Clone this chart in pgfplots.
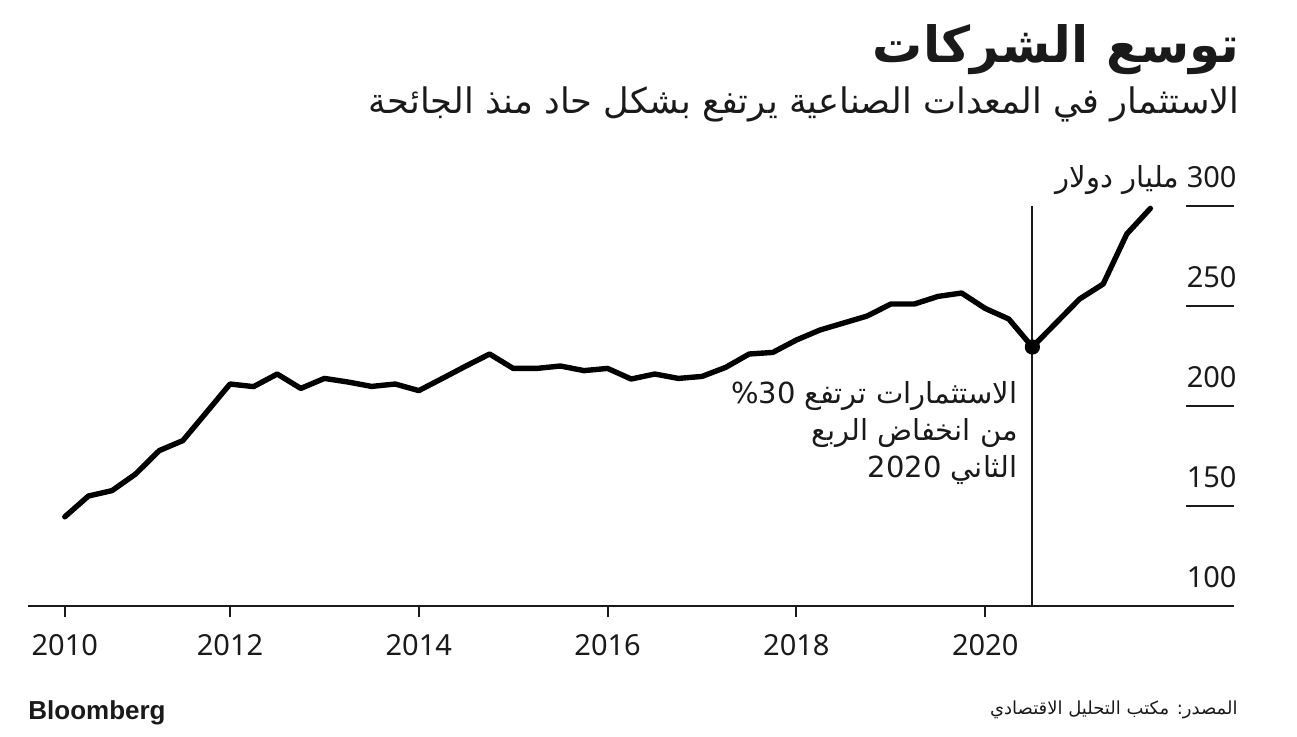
\documentclass[border=0pt]{standalone}
\usepackage{fontspec}
\setmainfont{Noto Sans}
\newfontfamily\arabicfont[Script=Arabic]{DejaVu Sans}
\newfontfamily\logofont{Liberation Sans}
\TeXXeTstate=1
\usepackage{pgfplots}
\pgfplotsset{compat=1.18}
\definecolor{ink}{HTML}{1A1A1A}

\begin{document}
\begin{tikzpicture}
\useasboundingbox (0,0) rectangle (648.5pt,-368pt);

% title and subtitle
\node[anchor=base east, inner sep=0pt, text=ink] at (620pt,-31pt)
  {\arabicfont\bfseries\fontsize{25}{30}\selectfont\beginR توسع الشركات\endR};
\node[anchor=base east, inner sep=0pt, text=ink] at (620pt,-56.5pt)
  {\arabicfont\fontsize{17.6}{20}\selectfont\beginR الاستثمار في المعدات الصناعية يرتفع بشكل حاد منذ الجائحة\endR};

\begin{axis}[
  at={(14pt,-303pt)}, anchor=south west,
  scale only axis, width=603pt, height=200pt,
  xmin=2009.86, xmax=2022.636, ymin=100, ymax=300,
  axis x line=bottom, axis y line=right,
  axis line style={-, draw=ink, line width=1pt},
  y axis line style={draw=none},
  xtick={2010.25,2012,2014,2016,2018,2020},
  xticklabels={2010,2012,2014,2016,2018,2020},
  ytick={100,150,200,250,300},
  yticklabels={100,150,200,250,{{\arabicfont\beginR مليار دولار\endR}\ 300}},
  tick align=outside, major tick length=5.5pt,
  tick style={draw=ink, line width=1pt},
  ytick style={draw=none},
  ticklabel style={font=\fontsize{14.5}{17}\selectfont, text=ink},
  xticklabel style={anchor=base, yshift=-19pt},
  yticklabel style={anchor=base east, inner sep=0pt, yshift=9.5pt, xshift=-4pt},
  clip=false,
]
\addplot[black, line width=2.7pt, line join=round, line cap=round] coordinates {
 (2010.25,144.6) (2010.50,155.0) (2010.75,157.7) (2011.00,166.0)
 (2011.25,177.7) (2011.50,182.7) (2011.75,196.8) (2012.00,211.0)
 (2012.25,209.7) (2012.50,216.0) (2012.75,208.8) (2013.00,213.8)
 (2013.25,212.0) (2013.50,209.8) (2013.75,211.0) (2014.00,207.7)
 (2014.25,213.8) (2014.50,220.0) (2014.75,226.0) (2015.00,218.8)
 (2015.25,218.8) (2015.50,220.0) (2015.75,217.7) (2016.00,218.8)
 (2016.25,213.5) (2016.50,216.0) (2016.75,213.8) (2017.00,214.8)
 (2017.25,219.3) (2017.50,226.0) (2017.75,226.8) (2018.00,233.0)
 (2018.25,238.0) (2018.50,241.5) (2018.75,245.0) (2019.00,251.0)
 (2019.25,251.0) (2019.50,254.8) (2019.75,256.5) (2020.00,248.8)
 (2020.25,243.5) (2020.50,229.5) (2020.75,241.5) (2021.00,253.5)
 (2021.25,261.0) (2021.50,286.0) (2021.75,298.8)
};
\addplot[only marks, mark=*, mark size=3.6pt, black] coordinates {(2020.5,229.5)};
\draw[ink, line width=1pt] (axis cs:2020.5,100) -- (axis cs:2020.5,300);
\pgfplotsinvokeforeach{150,200,250,300}{
  \draw[ink, line width=1pt] (axis cs:2022.128,#1) -- (axis cs:2022.636,#1);
}
\end{axis}

% annotation
\begin{scope}[every node/.style={anchor=base east, inner sep=0pt, text=ink,
    font=\arabicfont\fontsize{14.5}{17}\selectfont}]
\node at (509pt,-201.5pt) {\beginR الاستثمارات ترتفع \beginL\%30\endL\endR};
\node at (509pt,-220pt) {\beginR من انخفاض الربع\endR};
\node at (509pt,-238.5pt) {\beginR الثاني \beginL 2020\endL\endR};
\end{scope}

% footer
\node[anchor=base west, inner sep=0pt, text=ink] at (14pt,-359.5pt)
  {\logofont\bfseries\fontsize{13}{15}\selectfont Bloomberg};
\node[anchor=base east, inner sep=0pt, text=ink] at (619pt,-357pt)
  {\arabicfont\fontsize{9}{11}\selectfont\beginR المصدر: مكتب التحليل الاقتصادي\endR};
\end{tikzpicture}
\end{document}
